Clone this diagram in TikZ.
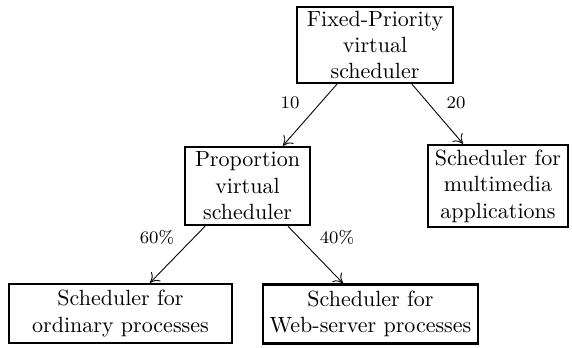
\documentclass[tikz,border=0pt]{standalone}
\usepackage{tikz}
\usetikzlibrary{arrows.meta,positioning}

\begin{document}
\begin{tikzpicture}[x=0.4545pt, y=-0.4545pt,
    sched/.style={draw, line width=1.1pt, inner sep=0pt, align=center},
    share/.style={font=\footnotesize},
    link/.style={-{To[length=4pt,width=6pt]}}]
  \useasboundingbox (0,0) rectangle (572,348);
  % schedulers
  \node[sched, minimum width=70.9pt, minimum height=34.5pt] (fixed) at (375,45)
    {Fixed-Priority\\virtual\\scheduler};
  \node[sched, minimum width=56.8pt, minimum height=35.5pt] (prop) at (247.5,186)
    {Proportion\\virtual\\scheduler};
  \node[sched, minimum width=63.6pt, minimum height=37.3pt] (multi) at (498,186)
    {Scheduler for\\multimedia\\applications};
  \node[sched, minimum width=101.4pt, minimum height=26.8pt] (ordinary) at (120.5,313.5)
    {Scheduler for\\ordinary processes};
  \node[sched, minimum width=97.7pt, minimum height=26.8pt] (web) at (370.5,314)
    {Scheduler for\\Web-server processes};
  % shares
  \node[share] (w10) at (290,103) {10};
  \node[share] (w20) at (456,103) {20};
  \node[share] (w60) at (157,237) {60\%};
  \node[share] (w40) at (337,237) {40\%};
  % links
  \draw[link] ([xshift=-17.3pt]fixed.south) -- ([xshift=16.1pt]prop.north);
  \draw[link] ([xshift=16.8pt]fixed.south) -- ([xshift=-15.9pt]multi.north);
  \draw[link] ([xshift=-19.3pt]prop.south) -- ([xshift=13.4pt]ordinary.north);
  \draw[link] ([xshift=18.4pt]prop.south) -- ([xshift=-12.5pt]web.north);
\end{tikzpicture}
\end{document}
